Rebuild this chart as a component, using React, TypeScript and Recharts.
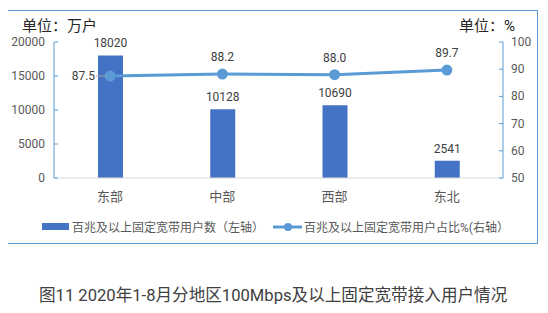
import * as React from 'react';
import { ComposedChart, Bar, Line, XAxis, YAxis, LabelList } from 'recharts';

const regions = ['东部', '中部', '西部', '东北'];
const users = [18020, 10128, 10690, 2541];
const share = [87.5, 88.2, 88.0, 89.7];
const leftTicks = [0, 5000, 10000, 15000, 20000];
const rightTicks = [50, 60, 70, 80, 90, 100];

const FONT = "Roboto, 'Noto Sans CJK SC', sans-serif";
const BLUE = '#4472C4';
const LIGHT = '#5B9BD5';
const TXT = '#595959';

const LeftTick = (props: any) => {
    const { x, y, payload } = props;
    return (
        <g>
            <line x1={x + 9} x2={x + 13} y1={y} y2={y} stroke={LIGHT} />
            <text x={x} y={y} dy={4} textAnchor="end" fill={TXT} fontSize={12} fontFamily={FONT}>{payload.value}</text>
        </g>
    );
};

const RightTick = (props: any) => {
    const { x, y, payload } = props;
    return (
        <g>
            <line x1={x - 8} x2={x - 12} y1={y} y2={y} stroke={LIGHT} />
            <text x={x} y={y} dy={4} textAnchor="start" fill={TXT} fontSize={12} fontFamily={FONT}>{payload.value}</text>
        </g>
    );
};

const LineLabel = (props: any) => {
    const { x, y, value, index } = props;
    const txt = Number(value).toFixed(1);
    if (index === 0) {
        return (
            <g>
                <line x1={x - 14} x2={x - 4} y1={y} y2={y} stroke="#A6A6A6" />
                <text x={x - 15} y={y} dy={4} textAnchor="end" fill="#404040" fontSize={12} fontFamily={FONT}>{txt}</text>
            </g>
        );
    }
    return (
        <text x={x} y={y - 17} dy={4} textAnchor="middle" fill="#404040" fontSize={12} fontFamily={FONT}>{txt}</text>
    );
};

export default function App() {
    const rows = regions.map((r, i) => ({ region: r, users: users[i], share: share[i] }));

    return (
        <div style={{ position: 'relative', width: 548, height: 313, margin: '-8px 0 0 -8px', background: '#fff', fontFamily: FONT }}>
            <div style={{ position: 'absolute', left: 6, top: 10, width: 530, height: 232, border: `1px solid ${LIGHT}` }} />
            <div style={{ position: 'absolute', left: 22, top: 14, fontSize: 15, color: '#262626' }}>单位：万户</div>
            <div style={{ position: 'absolute', left: 459, top: 14, fontSize: 15, color: '#262626' }}>单位：%</div>
            <div style={{ position: 'absolute', left: 0, top: 0 }}>
                <ComposedChart width={548} height={210} data={rows} margin={{ top: 42, right: 5, bottom: 12, left: 6 }}>
                    <XAxis dataKey="region" axisLine={{ stroke: '#D9D9D9' }} tickLine={false} tickMargin={8}
                        tick={{ fill: TXT, fontSize: 13, fontFamily: FONT }} height={20} />
                    <YAxis yAxisId="left" domain={[0, 20000]} ticks={leftTicks} width={48} tickSize={0} tickMargin={9}
                        tickLine={false} axisLine={{ stroke: LIGHT }} tick={<LeftTick />} />
                    <YAxis yAxisId="right" orientation="right" domain={[50, 100]} ticks={rightTicks} width={40}
                        tickSize={0} tickMargin={8} tickLine={false} axisLine={{ stroke: LIGHT }} tick={<RightTick />} />
                    <Bar yAxisId="left" dataKey="users" fill={BLUE} barSize={25} isAnimationActive={false}>
                        <LabelList dataKey="users" position="top" offset={8} fill="#404040" fontSize={12} fontFamily={FONT} />
                    </Bar>
                    <Line yAxisId="right" dataKey="share" stroke={LIGHT} strokeWidth={3}
                        dot={{ r: 4, fill: LIGHT, stroke: LIGHT }} isAnimationActive={false}>
                        <LabelList dataKey="share" content={<LineLabel />} />
                    </Line>
                </ComposedChart>
            </div>
            <div style={{ position: 'absolute', left: 42, top: 218, display: 'flex', alignItems: 'center', fontSize: 12, color: TXT, whiteSpace: 'nowrap' }}>
                <span style={{ display: 'inline-block', width: 27, height: 7, background: BLUE, marginRight: 3 }} />
                <span>百兆及以上固定宽带用户数（左轴）</span>
                <svg width={29} height={10} style={{ marginLeft: 9, marginRight: 2 }}>
                    <line x1={0} x2={29} y1={5} y2={5} stroke={LIGHT} strokeWidth={3} />
                    <circle cx={15} cy={5} r={4} fill={LIGHT} />
                </svg>
                <span>百兆及以上固定宽带用户占比%(右轴）</span>
            </div>
            <div style={{ position: 'absolute', left: 39, top: 282, fontSize: 16.6, color: '#404040', whiteSpace: 'nowrap' }}>
                图11 2020年1-8月分地区100Mbps及以上固定宽带接入用户情况
            </div>
        </div>
    );
}
